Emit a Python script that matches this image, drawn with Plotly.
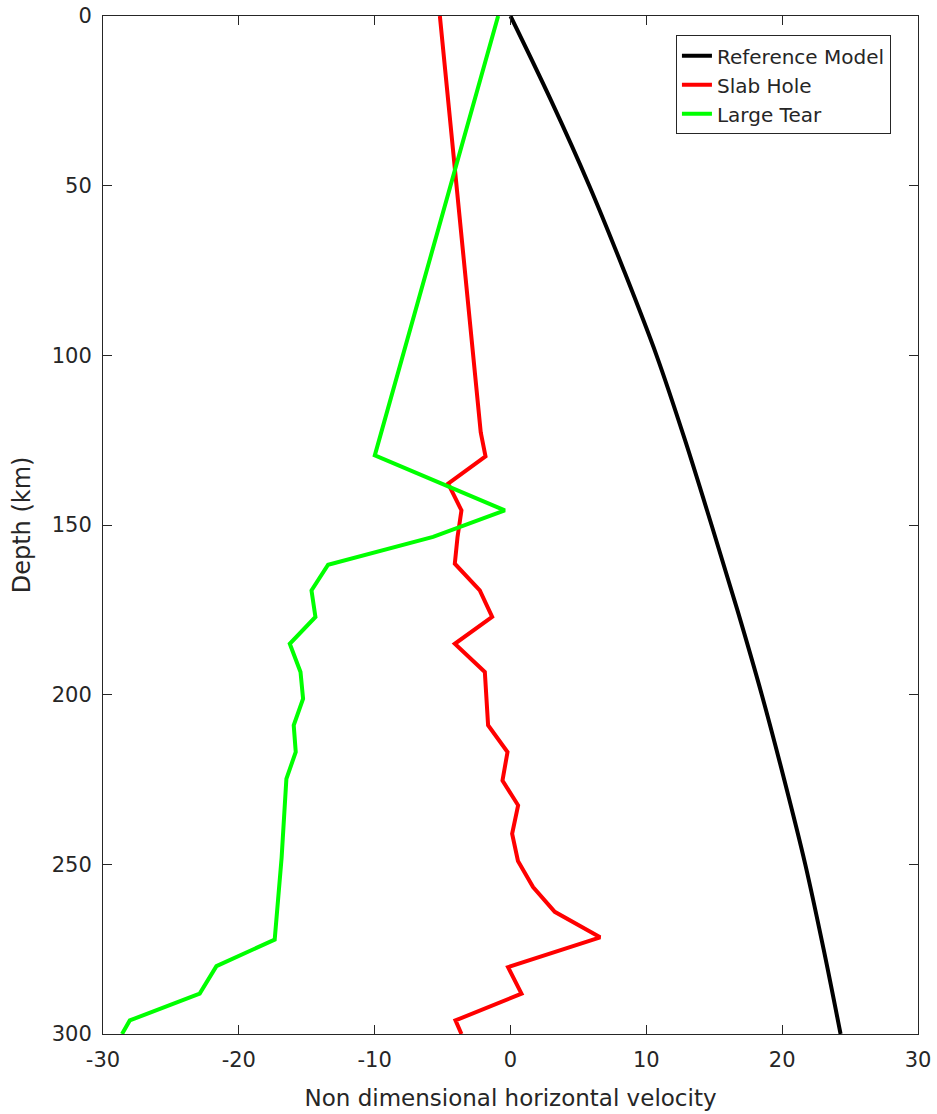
import plotly.graph_objects as go

# Reference model
ref_depth = [0, 25, 50, 75, 100, 125, 150, 175, 200, 225, 250, 275, 300]
ref_vel = [0, 3.0, 5.8, 8.35, 10.75, 12.85, 14.8, 16.7, 18.5, 20.15, 21.7, 23.05, 24.3]

# Slab hole
hole_depth = [0, 122.7, 129.8, 137.8, 145.7, 153.5, 161.4, 169.3, 177.1, 185.0, 193.3, 201.2, 209.0,
              216.9, 225.3, 232.6, 241.0, 249.0, 256.7, 264.0, 271.5, 280.3, 288.1, 296.0, 300.0]
hole_vel = [-5.2, -2.19, -1.84, -4.59, -3.61, -3.9, -4.10, -2.26, -1.35, -4.10, -1.89, -1.75, -1.65,
            -0.22, -0.59, 0.56, 0.12, 0.55, 1.66, 3.26, 6.6, -0.18, 0.81, -4.05, -3.61]

# Large tear
tear_depth = [0, 129.5, 145.7, 153.5, 161.7, 169.3, 177.1, 185.0, 193.3, 201.2, 209.0, 216.9, 224.8,
              248.0, 272.2, 280.0, 288.1, 296.0, 300.0]
tear_vel = [-0.91, -9.99, -0.42, -5.70, -13.43, -14.65, -14.36, -16.25, -15.46, -15.27, -15.96, -15.81, -16.5,
            -16.85, -17.36, -21.65, -22.88, -28.03, -28.6]

x_ticks = [-30, -20, -10, 0, 10, 20, 30]
y_ticks = [0, 50, 100, 150, 200, 250, 300]

FONT = "DejaVu Sans, Arial, sans-serif"
AX = "#262626"

fig = go.Figure()
fig.add_trace(go.Scatter(x=ref_vel, y=ref_depth, mode="lines", name="Reference Model",
                         line=dict(color="#000000", width=4, shape="spline", smoothing=1.0)))
fig.add_trace(go.Scatter(x=hole_vel, y=hole_depth, mode="lines", name="Slab Hole",
                         line=dict(color="#ff0000", width=4)))
fig.add_trace(go.Scatter(x=tear_vel, y=tear_depth, mode="lines", name="Large Tear",
                         line=dict(color="#00ff00", width=4)))

axis_common = dict(
    showline=True, linecolor=AX, linewidth=1, mirror="allticks",
    ticks="inside", ticklen=9, tickcolor=AX, tickwidth=1,
    showgrid=False, zeroline=False, automargin=False,
    tickfont=dict(family=FONT, size=21, color=AX),
)

fig.update_layout(
    width=937, height=1114,
    margin=dict(l=103, r=19, t=16, b=80),
    paper_bgcolor="white", plot_bgcolor="white",
    xaxis=dict(range=[-30, 30], tickvals=x_ticks, ticktext=[str(v) for v in x_ticks],
               title=dict(text="Non dimensional horizontal velocity",
                          font=dict(family=FONT, size=23, color=AX), standoff=18),
               ticklabelstandoff=7,
               **axis_common),
    yaxis=dict(range=[300, 0], tickvals=y_ticks, ticktext=[str(v) for v in y_ticks],
               title=dict(text="Depth (km)", font=dict(family=FONT, size=24, color=AX), standoff=14),
               ticklabelstandoff=6,
               **axis_common),
    legend=dict(x=0.703, y=0.981, xanchor="left", yanchor="top",
                bgcolor="white", bordercolor=AX, borderwidth=1,
                font=dict(family=FONT, size=20, color=AX),
                tracegroupgap=0),
    showlegend=True,
)

fig.write_html("out.html")
